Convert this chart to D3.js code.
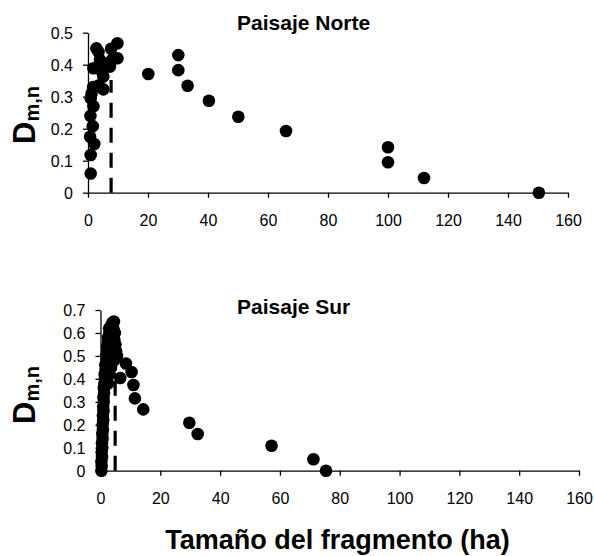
<!DOCTYPE html>
<html><head><meta charset="utf-8">
<script src="https://cdn.jsdelivr.net/npm/d3@7"></script>
<style>
html,body{margin:0;padding:0;background:#fff;}
svg{display:block;font-family:"Liberation Sans",Arial,sans-serif;}
</style>
</head><body>
<svg id="c" width="594" height="556"></svg>
<script>
// ---- data ----
const northX = [0.9,0.9,2.1,0.7,1.6,0.8,1.8,0.9,1.2,1.7,5.1,3.5,2.8,3.5,4.0,1.8,3.0,5.1,4.5,7.3,8.0,7.7,9.8,9.8,6.0,20.1,30.1,30.1,33.2,40.3,50.1,66.0,100.0,100.0,112.0,150.3];
const northY = [0.06,0.118,0.152,0.175,0.208,0.24,0.27,0.295,0.31,0.33,0.323,0.335,0.451,0.44,0.415,0.389,0.39,0.363,0.38,0.394,0.415,0.45,0.467,0.42,0.40,0.371,0.43,0.383,0.334,0.2875,0.2375,0.193,0.142,0.095,0.046,0.0];
const southX = [0.3,0.4,0.3,0.5,0.4,0.6,0.5,0.7,0.6,0.8,0.7,0.9,0.8,1.0,0.9,1.1,1.0,1.2,1.1,1.3,1.5,1.4,1.7,1.6,2.0,1.9,2.3,2.2,2.6,2.5,3.0,2.9,3.5,4.0,4.5,4.3,4.8,4.6,5.0,5.2,5.5,4.5,3.5,3.0,2.5,6.6,8.5,10.4,11.0,11.5,14.3,29.7,32.5,57.2,71.2,75.4];
const southY = [0.0,0.02,0.04,0.06,0.08,0.10,0.12,0.14,0.16,0.18,0.20,0.22,0.24,0.26,0.28,0.30,0.32,0.34,0.36,0.38,0.40,0.42,0.44,0.46,0.48,0.50,0.52,0.54,0.56,0.58,0.60,0.62,0.63,0.645,0.65,0.62,0.60,0.57,0.55,0.52,0.50,0.48,0.45,0.42,0.38,0.404,0.467,0.43,0.373,0.315,0.267,0.209,0.16,0.109,0.05,0.0];
const northThreshold = [7.7, 0.352];
const southThreshold = [4.9, 0.45];
const xTicks = [0,20,40,60,80,100,120,140,160];
const northYTicks = [0,0.1,0.2,0.3,0.4,0.5];
const southYTicks = [0,0.1,0.2,0.3,0.4,0.5,0.6,0.7];
const northTitle = "Paisaje Norte";
const southTitle = "Paisaje Sur";
const xTitle = "Tamaño del fragmento (ha)";

const svg = d3.select("#c");

function panel(opts){
  const x = d3.scaleLinear().domain([0,160]).range([opts.x0, opts.x1]);
  const y = d3.scaleLinear().domain([0, opts.ymax]).range([opts.y0, opts.y1]);
  const g = svg.append("g");

  const gx = g.append("g").attr("transform",`translate(0,${opts.y0})`)
    .call(d3.axisBottom(x).tickValues(xTicks).tickSize(5).tickSizeOuter(0).tickFormat(d3.format("d")));
  gx.selectAll("text").attr("y", 33).attr("dy", null)
    .style("font-size","16px").style("font-family","Liberation Sans, Arial, sans-serif").attr("fill","#000");
  const gy = g.append("g").attr("transform",`translate(${opts.x0},0)`)
    .call(d3.axisLeft(y).tickValues(opts.yticks).tickSize(5).tickSizeOuter(0).tickFormat(d => d===0 ? "0" : d3.format(".1f")(d)));
  gy.selectAll("text").attr("x", -15).attr("dy","0.35em")
    .style("font-size","16px").style("font-family","Liberation Sans, Arial, sans-serif").attr("fill","#000");
  g.selectAll(".domain").attr("stroke","#000").attr("stroke-width",1.3);
  g.selectAll(".tick line").attr("stroke","#000").attr("stroke-width",1.3);

  g.append("line")
    .attr("x1", x(opts.thr[0])).attr("x2", x(opts.thr[0]))
    .attr("y1", y(0)).attr("y2", y(opts.thr[1]))
    .attr("stroke","#000").attr("stroke-width",3.2).attr("stroke-dasharray","15,10");

  g.selectAll("circle.pt").data(opts.xs.map((v,i)=>[v,opts.ys[i]])).enter().append("circle")
    .attr("class","pt").attr("cx", d=>x(d[0])).attr("cy", d=>y(d[1])).attr("r",6.3).attr("fill","#000");

  g.append("text").attr("x", opts.titleX).attr("y", opts.titleY)
    .style("font-size","21px").style("font-weight","bold").attr("fill","#000").text(opts.title);

  const yl = g.append("text")
    .attr("transform",`translate(${opts.ylX},${opts.ylY}) rotate(-90)`)
    .attr("text-anchor","middle").attr("fill","#000").style("font-weight","bold");
  yl.append("tspan").style("font-size","31px").text("D");
  yl.append("tspan").style("font-size","20px").attr("dy","4").text("m,n");
}

panel({x0:88, x1:568, y0:192.7, y1:32.7, ymax:0.5, yticks:northYTicks,
  xs:northX, ys:northY, thr:northThreshold, title:northTitle, titleX:237, titleY:30,
  ylX:35, ylY:115});
panel({x0:100.5, x1:579, y0:470.7, y1:310, ymax:0.7, yticks:southYTicks,
  xs:southX, ys:southY, thr:southThreshold, title:southTitle, titleX:237, titleY:314,
  ylX:35, ylY:395});

svg.append("text").attr("x", 337.5).attr("y", 549).attr("text-anchor","middle")
  .style("font-size","27px").style("font-weight","bold").attr("fill","#000").text(xTitle);
</script>
</body></html>
